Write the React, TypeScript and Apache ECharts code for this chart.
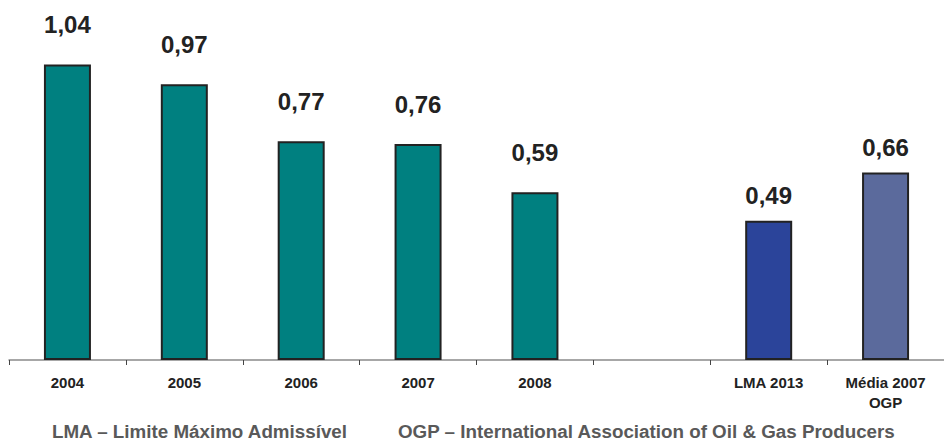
import React, { useEffect, useRef } from "react";
import * as echarts from "echarts";

const categories = ["2004", "2005", "2006", "2007", "2008", "", "LMA 2013", "Média 2007\nOGP"];
const values: (number | null)[] = [1.04, 0.97, 0.77, 0.76, 0.59, null, 0.49, 0.66];
const barColors = ["#008080", "#008080", "#008080", "#008080", "#008080", "#008080", "#2B449A", "#5B6A9C"];
const labelDistances = [28, 28, 28, 28, 28, 28, 13, 13];
const footnotes = [
  "LMA – Limite Máximo Admissível",
  "OGP – International Association of Oil & Gas Producers",
];

const FONT = "'Liberation Sans', Arial, sans-serif";

export default function App() {
  const ref = useRef<HTMLDivElement>(null);
  useEffect(() => {
    if (!ref.current) return;
    const chart = echarts.init(ref.current, undefined, { renderer: "svg" });
    chart.setOption({
      animation: false,
      backgroundColor: "#ffffff",
      textStyle: { fontFamily: FONT },
      grid: { left: 9, top: 19, width: 944, height: 341, containLabel: false },
      xAxis: {
        type: "category",
        data: categories,
        axisLine: { show: true, lineStyle: { color: "#8a8a8a", width: 1.5 } },
        axisTick: { show: true, alignWithLabel: false, length: 5, lineStyle: { color: "#444", width: 1 } },
        axisLabel: {
          margin: 12,
          fontSize: 15,
          fontWeight: "bold",
          color: "#222",
          lineHeight: 20,
          fontFamily: FONT,
          interval: 0,
        },
      },
      yAxis: {
        type: "value",
        min: 0,
        max: 1.2,
        show: false,
        splitLine: { show: false },
      },
      graphic: [
        {
          type: "text",
          left: 52,
          top: 422,
          style: { text: footnotes[0], font: `bold 18.8px ${FONT}`, fill: "#595959" },
        },
        {
          type: "text",
          left: 398,
          top: 422,
          style: { text: footnotes[1], font: `bold 18.8px ${FONT}`, fill: "#595959" },
        },
      ],
      series: [
        {
          type: "bar",
          barWidth: 47,
          data: values.map((v, i) => ({
            value: v === null ? "-" : v,
            itemStyle: { color: barColors[i], borderColor: "#222", borderWidth: 2 },
            label: {
              show: v !== null,
              position: "top",
              distance: labelDistances[i],
              formatter: () => (v === null ? "" : v.toFixed(2).replace(".", ",")),
              fontSize: 24,
              fontWeight: "bold",
              color: "#222",
              fontFamily: FONT,
            },
          })),
        },
      ],
    });
    return () => chart.dispose();
  }, []);
  return (
    <div
      ref={ref}
      style={{ position: "absolute", left: 0, top: 0, width: 944, height: 444 }}
    />
  );
}
